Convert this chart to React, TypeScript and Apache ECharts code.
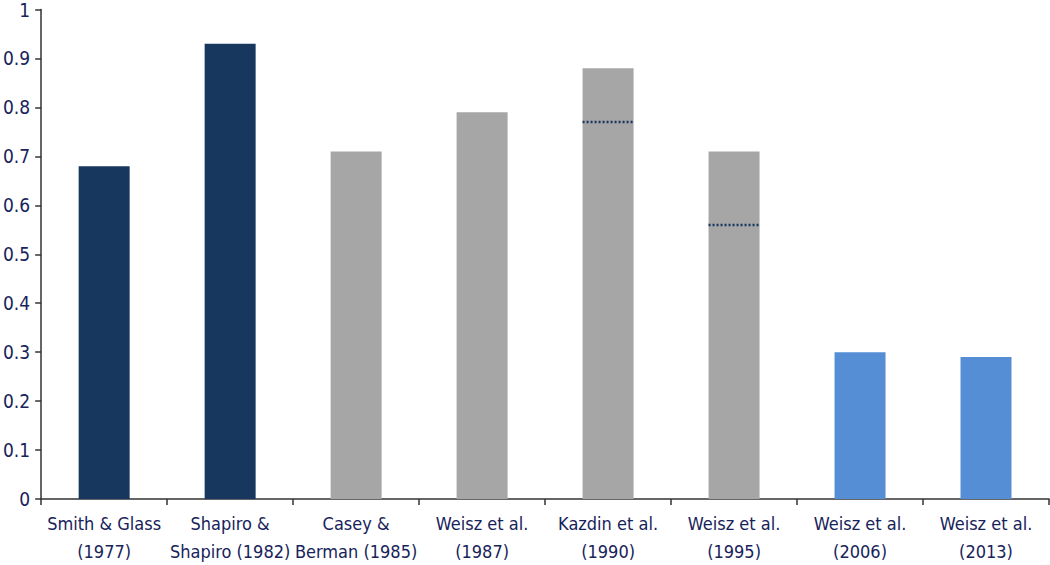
import React, { useEffect, useRef } from "react";
import * as echarts from "echarts";

const categories = [
  "Smith & Glass\n(1977)",
  "Shapiro &\nShapiro (1982)",
  "Casey &\nBerman (1985)",
  "Weisz et al.\n(1987)",
  "Kazdin et al.\n(1990)",
  "Weisz et al.\n(1995)",
  "Weisz et al.\n(2006)",
  "Weisz et al.\n(2013)",
];
const effectSizes = [0.68, 0.93, 0.71, 0.79, 0.88, 0.71, 0.3, 0.29];
const barGroups = ["adult", "adult", "youth", "youth", "youth", "youth", "recent", "recent"];
const dottedMarks: [number, number][] = [
  [4, 0.77],
  [5, 0.56],
];
const yTicks = { min: 0, max: 1, interval: 0.1 };

const groupColors: Record<string, string> = {
  adult: "#17375e",
  youth: "#a6a6a6",
  recent: "#558ed5",
};

const FONT = "'DejaVu Sans Condensed', 'Liberation Sans Narrow', Arial, sans-serif";
const TEXT_COLOR = "#17235a";
const BAR_WIDTH = 51;

export default function App() {
  const ref = useRef<HTMLDivElement>(null);
  useEffect(() => {
    if (!ref.current) return;
    const chart = echarts.init(ref.current, undefined, { renderer: "svg" });
    chart.setOption({
      animation: false,
      grid: { left: 36, right: 1, top: 9, bottom: 50, containLabel: false },
      xAxis: {
        type: "category",
        data: categories,
        axisLine: { lineStyle: { color: "#333", width: 1.5 } },
        axisTick: { show: true, length: 6, lineStyle: { color: "#333", width: 1.5 } },
        axisLabel: {
          color: TEXT_COLOR,
          fontFamily: FONT,
          fontSize: 18,
          lineHeight: 28,
          margin: 10,
          interval: 0,
        },
      },
      yAxis: {
        type: "value",
        min: yTicks.min,
        max: yTicks.max,
        interval: yTicks.interval,
        axisLine: { show: true, lineStyle: { color: "#333", width: 1.5 } },
        axisTick: { show: true, length: 6, lineStyle: { color: "#333", width: 1.5 } },
        splitLine: { show: false },
        axisLabel: {
          color: TEXT_COLOR,
          fontFamily: FONT,
          fontSize: 19,
          margin: 11,
          formatter: (v: number) => String(Math.round(v * 10) / 10),
        },
      },
      series: [
        {
          type: "bar",
          barWidth: BAR_WIDTH,
          data: effectSizes.map((v, i) => ({
            value: v,
            itemStyle: { color: groupColors[barGroups[i]] },
          })),
        },
        {
          type: "custom",
          data: dottedMarks,
          z: 10,
          renderItem: (params: any, api: any) => {
            const p = api.coord([api.value(0), api.value(1)]);
            return {
              type: "line",
              shape: { x1: p[0] - BAR_WIDTH / 2, y1: p[1], x2: p[0] + BAR_WIDTH / 2, y2: p[1] },
              style: { stroke: "#17375e", lineWidth: 2.5, lineDash: [2, 2] },
            };
          },
        },
      ],
    });
    return () => chart.dispose();
  }, []);
  return (
    <div
      ref={ref}
      style={{ position: "absolute", left: 0, top: 0, width: 1050, height: 565 }}
    />
  );
}
